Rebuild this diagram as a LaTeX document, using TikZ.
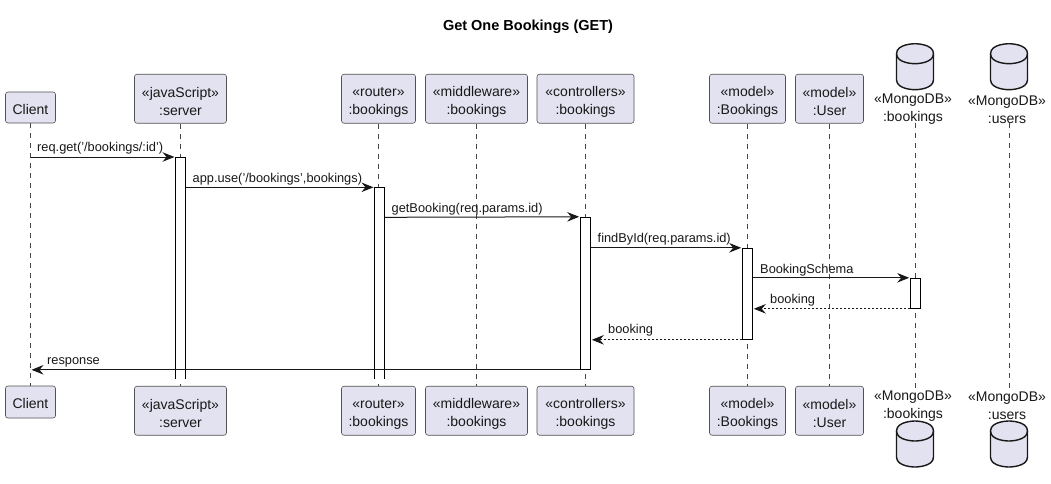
\documentclass[tikz,border=0pt]{standalone}
\usepackage{fontspec}
\setmainfont{Liberation Sans}
\usetikzlibrary{arrows.meta}
\definecolor{partfill}{HTML}{E2E2F0}
\definecolor{ink}{HTML}{181818}
\newcommand{\ptop}{\rule{0pt}{16.5pt}}
\tikzset{
  part/.style={draw=ink!75,line width=0.6pt,fill=partfill,rounded corners=2.5pt,minimum height=#1,inner sep=0pt,align=center,text=ink,font=\fontsize{14}{18}\selectfont},
  part/.default=31pt,
  dbtext/.style={inner sep=0pt,align=center,text=ink,font=\fontsize{14}{18}\selectfont},
  life/.style={draw=ink!80,line width=0.5pt,dash pattern=on 5pt off 5pt},
  bar/.style={draw=black,line width=1pt,fill=white,inner sep=0pt,minimum width=9.6pt},
  msg/.style={draw=ink,line width=1pt,shorten >=1pt,-{Stealth[length=12pt,width=9.5pt,inset=4pt]}},
  ret/.style={msg,dash pattern=on 2pt off 2pt},
  lbl/.style={inner sep=0pt,anchor=base west,text=ink,font=\fontsize{12.8}{15}\selectfont},
  dbshape/.style={draw=ink,line width=1.4pt,fill=partfill},
}
% centre x, top y
\newcommand{\dbcyl}[2]{%
  \path[dbshape] (#1-18.5,#2+10) .. controls (#1-18.5,#2) and (#1,#2) .. (#1,#2)
    .. controls (#1,#2) and (#1+18.5,#2) .. (#1+18.5,#2+10)
    -- (#1+18.5,#2+36) .. controls (#1+18.5,#2+46) and (#1,#2+46) .. (#1,#2+46)
    .. controls (#1,#2+46) and (#1-18.5,#2+46) .. (#1-18.5,#2+36) -- cycle;
  \path[draw=ink,line width=1.4pt] (#1-18.5,#2+10) .. controls (#1-18.5,#2+20) and (#1,#2+20) .. (#1,#2+20)
    .. controls (#1,#2+20) and (#1+18.5,#2+20) .. (#1+18.5,#2+10);%
}
\begin{document}
\begin{tikzpicture}[x=1pt,y=-1pt]
\useasboundingbox (0,0) rectangle (1051,483);
\fill[white] (0,0) rectangle (1051,483);
\node[inner sep=0pt,font=\bfseries\fontsize{14.5}{16}\selectfont,text=black] (title) at (528,26.5) {Get One Bookings (GET)};

% lifeline anchors
\coordinate (mdbT) at (915.3,123);
\coordinate (udbT) at (1009.3,123);
\coordinate (mdbB) at (915.3,388);
\coordinate (udbB) at (1009.3,388);

% top participants
\node[part,minimum width=50pt] (clientT) at (30.5,107.5) {\rule{0pt}{14pt}Client};
\node[part=49pt,minimum width=92pt] (serverT) at (180.5,98.7) {\ptop«javaScript»\\:server};
\node[part=49pt,minimum width=74pt] (routerT) at (378.5,98.7) {\ptop«router»\\:bookings};
\node[part=49pt,minimum width=102pt] (midT) at (476.5,98.7) {\ptop«middleware»\\:bookings};
\node[part=49pt,minimum width=97pt] (ctrlT) at (585.5,98.7) {\ptop«controllers»\\:bookings};
\node[part=49pt,minimum width=76pt] (bookT) at (747.5,98.7) {\ptop«model»\\:Bookings};
\node[part=49pt,minimum width=68pt] (userT) at (829.5,98.7) {\ptop«model»\\:User};

% bottom participants
\node[part=32pt,minimum width=50pt] (clientB) at (30.5,402) {\rule{0pt}{14pt}Client};
\node[part=49pt,minimum width=92pt] (serverB) at (180.5,410.7) {\ptop«javaScript»\\:server};
\node[part=49pt,minimum width=74pt] (routerB) at (378.5,410.7) {\ptop«router»\\:bookings};
\node[part=49pt,minimum width=102pt] (midB) at (476.5,410.7) {\ptop«middleware»\\:bookings};
\node[part=49pt,minimum width=97pt] (ctrlB) at (585.5,410.7) {\ptop«controllers»\\:bookings};
\node[part=49pt,minimum width=76pt] (bookB) at (747.5,410.7) {\ptop«model»\\:Bookings};
\node[part=49pt,minimum width=68pt] (userB) at (829.5,410.7) {\ptop«model»\\:User};

% lifelines
\draw[life] (clientT.south) -- (clientB.north);
\draw[life] (serverT.south) -- (serverB.north);
\draw[life] (routerT.south) -- (routerB.north);
\draw[life] (midT.south) -- (midB.north);
\draw[life] (ctrlT.south) -- (ctrlB.north);
\draw[life] (bookT.south) -- (bookB.north);
\draw[life] (userT.south) -- (userB.north);
\draw[life] (mdbT) -- (mdbB);
\draw[life] (udbT) -- (udbB);

% databases
\dbcyl{915}{43.7}
\dbcyl{1009}{43.7}
\dbcyl{915}{421}
\dbcyl{1009}{421}
\node[dbtext] (mdbTl) at (913,109.5) {«MongoDB»\\:bookings};
\node[dbtext] (udbTl) at (1007,109.5) {«MongoDB»\\:users};
\node[dbtext] (mdbBl) at (913,406) {«MongoDB»\\:bookings};
\node[dbtext] (udbBl) at (1007,406) {«MongoDB»\\:users};

% activation bars
\path[fill=white] (175.5,157) rectangle (185.5,379);
\draw[line width=1pt,black] (175.5,379) -- (175.5,157) -- (185.5,157) -- (185.5,379);
\coordinate (serverBar) at (175.5,157);
\coordinate (serverBarE) at (185.5,187.3);
\path[fill=white] (374.5,187.3) rectangle (384.5,379);
\draw[line width=1pt,black] (374.5,379) -- (374.5,187.3) -- (384.5,187.3) -- (384.5,379);
\coordinate (routerBar) at (374.5,187.3);
\coordinate (routerBarE) at (384.5,217.3);
\node[bar,minimum height=152pt] (ctrlBar) at (585.5,293.3) {};
\node[bar,minimum height=91pt] (bookBar) at (747.5,293.8) {};
\node[bar,minimum height=30pt] (mdbBar) at (915.5,293.3) {};

% messages
\draw[msg] (clientT.south |- serverBar) -- (serverBar);
\draw[msg] (serverBarE) -- (routerBar);
\draw[msg] (routerBarE) -- (ctrlBar.north west);
\draw[msg] (ctrlBar.east |- bookBar.north) -- (bookBar.north west);
\draw[msg] (bookBar.east |- mdbBar.north) -- (mdbBar.north west);
\draw[ret] (mdbBar.south west) -- (bookBar.east |- mdbBar.south);
\draw[ret] (bookBar.south west) -- (ctrlBar.east |- bookBar.south);
\draw[msg] (ctrlBar.south west) -- (clientT.south |- ctrlBar.south);

% message labels
\node[lbl] (l1) at (37,151) {req.get('/bookings/:id')};
\node[lbl] (l2) at (192.5,182) {app.use('/bookings',bookings)};
\node[lbl] (l3) at (391.5,212) {getBooking(req.params.id)};
\node[lbl] (l4) at (597.5,242.7) {findById(req.params.id)};
\node[lbl] (l5) at (760,273) {BookingSchema};
\node[lbl] (l6) at (770,303) {booking};
\node[lbl] (l7) at (608,333.5) {booking};
\node[lbl] (l8) at (47,364) {response};
\end{tikzpicture}
\end{document}
